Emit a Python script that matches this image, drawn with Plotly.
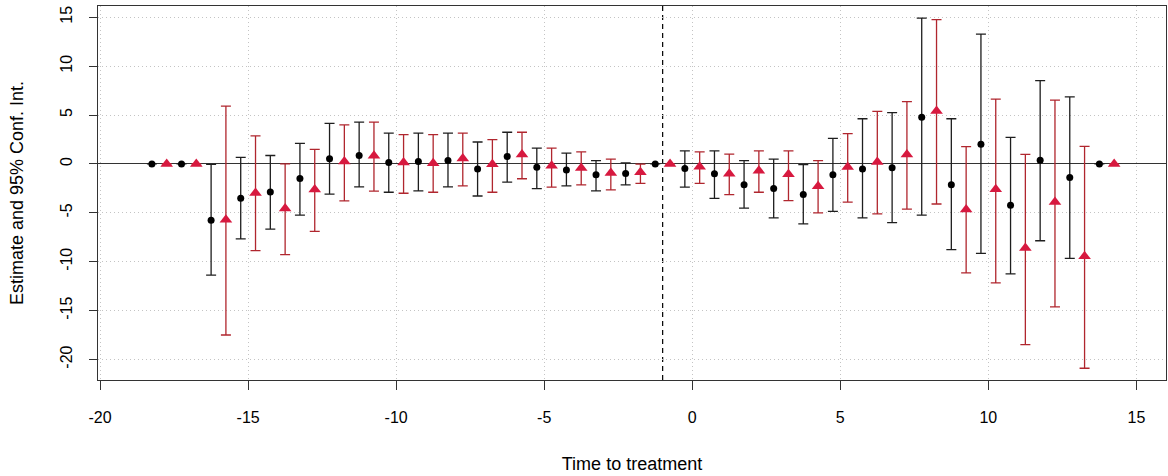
import plotly.graph_objects as go

# Time to treatment (event time)
periods = list(range(-18, 15))

# Series 1 (black circles): estimate, lower and upper 95% CI
black_est = [0, 0, -5.76, -3.52, -2.86, -1.48, 0.52, 0.86, 0.14, 0.24, 0.34, -0.52, 0.76, -0.34, -0.62, -1.10, -0.97,
             0, -0.48, -1.00, -2.14, -2.52, -3.14, -1.10, -0.52, -0.38, 4.76, -2.14, 2.00, -4.24, 0.38, -1.38, 0]
black_lo = [None, None, -11.38, -7.66, -6.66, -5.24, -3.10, -2.34, -2.90, -2.76, -2.34, -3.28, -1.86, -2.52, -2.24, -2.76, -2.14,
            None, -2.38, -3.52, -4.52, -5.52, -6.14, -4.86, -5.52, -6.00, -5.24, -8.76, -9.14, -11.24, -7.86, -9.66, None]
black_hi = [None, None, -0.05, 0.66, 0.86, 2.10, 4.14, 4.28, 3.14, 3.14, 3.14, 2.24, 3.24, 1.62, 1.10, 0.34, 0.10,
            None, 1.34, 1.34, 0.34, 0.48, -0.07, 2.62, 4.62, 5.24, 14.90, 4.62, 13.28, 2.72, 8.52, 6.86, None]

# Series 2 (red triangles)
red_est = [0, 0, -5.70, -2.97, -4.55, -2.62, 0.24, 0.83, 0.14, 0.07, 0.55, -0.03, 0.97, -0.20, -0.41, -0.93, -0.86,
           0, -0.28, -1.00, -0.69, -1.07, -2.28, -0.31, 0.20, 0.97, 5.41, -4.66, -2.59, -8.59, -3.90, -9.45, 0]
red_lo = [None, None, -17.50, -8.86, -9.28, -6.90, -3.79, -2.79, -3.00, -2.90, -2.24, -2.90, -1.52, -2.38, -2.14, -2.66, -2.00,
          None, -2.00, -3.14, -2.90, -3.76, -5.00, -3.90, -5.10, -4.62, -4.10, -11.14, -12.17, -18.48, -14.62, -20.90, None]
red_hi = [None, None, 5.90, 2.86, 0.00, 1.48, 4.00, 4.28, 3.00, 3.00, 3.14, 2.48, 3.24, 1.62, 1.24, 0.48, -0.03,
          None, 1.24, 1.00, 1.34, 1.34, 0.34, 3.10, 5.38, 6.38, 14.76, 1.76, 6.62, 0.97, 6.52, 1.79, None]

tick_vals = [-20, -15, -10, -5, 0, 5, 10, 15]
tick_text = ["-20", "-15", "-10", "-5", "0", "5", "10", "15"]
reference_period = -1


def plus(est, hi):
    return [None if h is None else h - e for e, h in zip(est, hi)]


def minus(est, lo):
    return [None if l is None else e - l for e, l in zip(est, lo)]


fig = go.Figure()
fig.add_trace(go.Scatter(
    x=[p - 0.25 for p in periods], y=black_est, mode="markers",
    marker=dict(symbol="circle", size=7, color="black"),
    error_y=dict(type="data", symmetric=False, array=plus(black_est, black_hi),
                 arrayminus=minus(black_est, black_lo), color="#1e1e1e", thickness=1.3, width=5),
    showlegend=False,
))
fig.add_trace(go.Scatter(
    x=[p + 0.25 for p in periods], y=red_est, mode="markers",
    marker=dict(symbol="triangle-up", size=11, color="#D7193F"),
    error_y=dict(type="data", symmetric=False, array=plus(red_est, red_hi),
                 arrayminus=minus(red_est, red_lo), color="#B0262E", thickness=1.3, width=5),
    showlegend=False,
))

fig.add_vline(x=reference_period, line=dict(color="black", width=1.2, dash="5px,4px"), layer="below")

font_family = "Liberation Sans, Arial, sans-serif"
fig.update_layout(
    width=1168, height=476,
    margin=dict(l=98, r=2, t=6, b=96),
    plot_bgcolor="white", paper_bgcolor="white",
    font=dict(family=font_family, size=16, color="black"),
)
fig.update_xaxes(
    range=[-20.07, 16.0], tickvals=tick_vals, ticktext=tick_text,
    ticks="outside", ticklen=9, tickcolor="#333", tickwidth=1.2,
    showgrid=True, gridcolor="#c4c4c4", griddash="1px,3px", gridwidth=1,
    showline=True, mirror=True, linecolor="#333", linewidth=1.2,
    zeroline=False, ticklabelstandoff=14, automargin=False,
    title=dict(text="Time to treatment", font=dict(size=18), standoff=32),
)
fig.update_yaxes(
    range=[-22.1, 16.15], tickvals=tick_vals, ticktext=tick_text, tickangle=-90,
    ticks="outside", ticklen=8, tickcolor="#333", tickwidth=1.2,
    showgrid=True, gridcolor="#c4c4c4", griddash="1px,3px", gridwidth=1,
    showline=True, mirror=True, linecolor="#333", linewidth=1.2,
    zeroline=True, zerolinecolor="#333", zerolinewidth=1.3,
    ticklabelstandoff=11, automargin=False,
    title=dict(text="Estimate and 95% Conf. Int.", font=dict(size=18), standoff=29),
)

fig.write_html("out.html", config={"displayModeBar": False},
               post_script="document.body.style.margin='0';")
